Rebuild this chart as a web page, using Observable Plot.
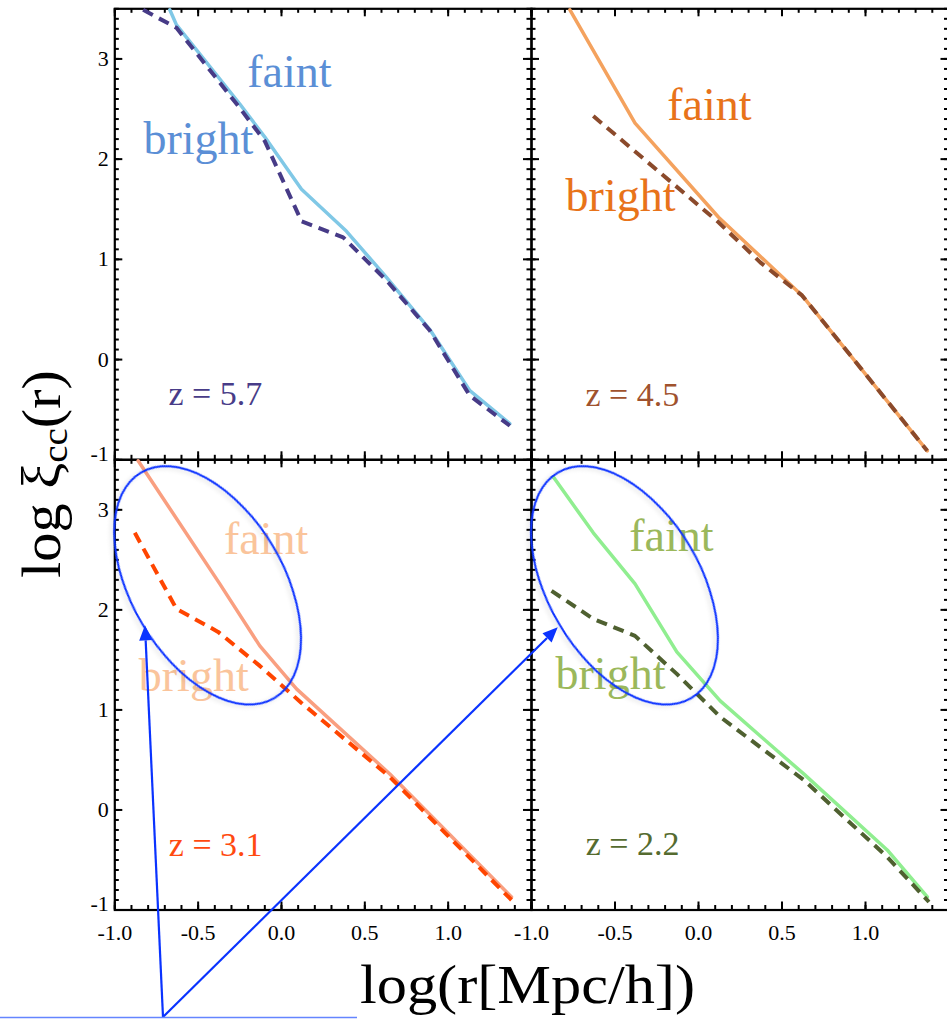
<!DOCTYPE html>
<html><head><meta charset="utf-8">
<script src="https://cdn.jsdelivr.net/npm/d3@7"></script>
<script src="https://cdn.jsdelivr.net/npm/@observablehq/plot@0.6"></script>
<style>
html,body{margin:0;padding:0;background:#fff;overflow:hidden;}
#fig{position:relative;width:947px;height:1019px;overflow:hidden;background:#fff;}
#fig > svg{position:absolute;left:0;top:0;}
</style></head><body><div id="fig"></div>
<script>
// ---------------- data ----------------
const redshiftLabels = ["z = 5.7", "z = 4.5", "z = 3.1", "z = 2.2"];
const seriesNames = ["faint", "bright"];

// z = 5.7 (top left)
const logr_57_faint  = [-0.67, -0.63, -0.25, -0.10, 0.12, 0.39, 0.63, 0.89, 1.13, 1.37];
const xi_57_faint    = [ 3.49,  3.34,  2.55,  2.22, 1.70, 1.28, 0.82, 0.30, -0.31, -0.64];
const logr_57_bright = [-0.83, -0.63, -0.25, -0.10, 0.12, 0.37, 0.63, 0.89, 1.13, 1.37];
const xi_57_bright   = [ 3.49,  3.31,  2.51,  2.18, 1.38, 1.22, 0.79, 0.29, -0.36, -0.66];

// z = 4.5 (top right)
const logr_45_faint  = [-0.77, -0.38, 0.12, 0.62, 1.37];
const xi_45_faint    = [ 3.49,  2.36, 1.42, 0.64, -0.91];
const logr_45_bright = [-0.63, 0.12, 0.37, 0.62, 1.37];
const xi_45_bright   = [ 2.43, 1.37, 0.97, 0.64, -0.91];

// z = 3.1 (bottom left)
const logr_31_faint  = [-0.86, -0.37, -0.13, 0.09, 0.65, 1.38];
const xi_31_faint    = [ 3.49,  2.26,  1.64, 1.21, 0.36, -0.87];
const logr_31_bright = [-0.88, -0.63, -0.38, -0.13, 0.12, 0.65, 1.38];
const xi_31_bright   = [ 2.77,  2.01,  1.78,  1.44, 1.07, 0.33, -0.90];

// z = 2.2 (bottom right)
const logr_22_faint  = [-0.87, -0.63, -0.38, -0.13, 0.13, 0.63, 1.13, 1.37];
const xi_22_faint    = [ 3.33,  2.77,  2.26,  1.58, 1.09, 0.36, -0.40, -0.87];
const logr_22_bright = [-0.88, -0.63, -0.38, -0.13, 0.13, 0.63, 1.13, 1.38];
const xi_22_bright   = [ 2.19,  1.91,  1.74,  1.36, 0.93, 0.30, -0.47, -0.92];

// axes
const xDomain = [-1, 1.5];
const yDomain = [-1, 3.5];
const xTickLabels = [-1.0, -0.5, 0.0, 0.5, 1.0];
const yTickLabels = [-1, 0, 1, 2, 3];
const xLabel = "log(r[Mpc/h])";

// ---------------- layout / style ----------------
const PAGE_W = 947, PAGE_H = 1019;
const SERIF = "'Liberation Serif', 'Times New Roman', serif";
const xMajor = d3.ticks(xDomain[0], xDomain[1], 5);
const xMinor = d3.ticks(xDomain[0], xDomain[1], 25);
const yMajor = d3.ticks(yDomain[0], yDomain[1], 5);
const yMinor = d3.ticks(yDomain[0], yDomain[1], 45);

const rows = (xs, ys) => xs.map((x, i) => ({x, y: ys[i]}));

const panels = [
  {name: redshiftLabels[0], W: 947, x0: 114.3, x1: 531, y0: 8.3, y1: 459.3, xLabels: false, yLabels: true,
   faint: rows(logr_57_faint, xi_57_faint), bright: rows(logr_57_bright, xi_57_bright),
   faintColor: "#80c8e6", brightColor: "#473b87", textColor: "#5b8fd6", zColor: "#483c88",
   pos: {faint: [-0.206, 2.72], bright: [-0.828, 2.05], z: [-0.678, -0.45]}},
  {name: redshiftLabels[1], W: 950, x0: 531, x1: 948.5, y0: 8.3, y1: 459.3, xLabels: false, yLabels: false,
   faint: rows(logr_45_faint, xi_45_faint), bright: rows(logr_45_bright, xi_45_bright),
   faintColor: "#f4a25e", brightColor: "#8b4a2b", textColor: "#e8731a", zColor: "#a0522d",
   pos: {faint: [-0.187, 2.39], bright: [-0.796, 1.48], z: [-0.677, -0.46]}},
  {name: redshiftLabels[2], W: 947, x0: 114.3, x1: 531, y0: 459.3, y1: 909.5, xLabels: true, yLabels: true,
   faint: rows(logr_31_faint, xi_31_faint), bright: rows(logr_31_bright, xi_31_bright),
   faintColor: "#f99f80", brightColor: "#ff4500", textColor: "#fac49b", zColor: "#ff4a10",
   pos: {faint: [-0.345, 2.56], bright: [-0.856, 1.19], z: [-0.676, -0.46]}},
  {name: redshiftLabels[3], W: 950, x0: 531, x1: 948.5, y0: 459.3, y1: 909.5, xLabels: true, yLabels: false,
   faint: rows(logr_22_faint, xi_22_faint), bright: rows(logr_22_bright, xi_22_bright),
   faintColor: "#90ee90", brightColor: "#4f6030", textColor: "#9bb85b", zColor: "#556b2f",
   pos: {faint: [-0.415, 2.59], bright: [-0.856, 1.21], z: [-0.675, -0.45]}}
];

const fig = document.getElementById("fig");
const charts = [];

for (const p of panels) {
  const fw = p.x1 - p.x0, fh = p.y1 - p.y0;
  const M = 8, m = 4.5, sw = 2;
  const tickStyle = {stroke: "#000", strokeWidth: sw};
  const marks = [
    Plot.ruleX(xMinor, {x: d => d, insetTop: fh - m, ...tickStyle}),
    Plot.ruleX(xMinor, {x: d => d, insetBottom: fh - m, ...tickStyle}),
    Plot.ruleX(xMajor, {x: d => d, insetTop: fh - M, ...tickStyle}),
    Plot.ruleX(xMajor, {x: d => d, insetBottom: fh - M, ...tickStyle}),
    Plot.ruleY(yMinor, {y: d => d, insetRight: fw - m, ...tickStyle}),
    Plot.ruleY(yMinor, {y: d => d, insetLeft: fw - m, ...tickStyle}),
    Plot.ruleY(yMajor, {y: d => d, insetRight: fw - M, ...tickStyle}),
    Plot.ruleY(yMajor, {y: d => d, insetLeft: fw - M, ...tickStyle}),
    Plot.frame({stroke: "#000", strokeWidth: 2.2}),
    Plot.line(p.faint, {x: "x", y: "y", stroke: p.faintColor, strokeWidth: 3.5}),
    Plot.line(p.bright, {x: "x", y: "y", stroke: p.brightColor, strokeWidth: 4,
      strokeDasharray: "11,7", strokeLinecap: "butt", strokeLinejoin: "miter"}),
    Plot.text([{x: p.pos.faint[0], y: p.pos.faint[1], t: seriesNames[0]},
               {x: p.pos.bright[0], y: p.pos.bright[1], t: seriesNames[1]}],
      {x: "x", y: "y", text: "t", fill: p.textColor, fontSize: 46, fontFamily: SERIF,
       textAnchor: "start", lineAnchor: "bottom"}),
    Plot.text([{x: p.pos.z[0], y: p.pos.z[1], t: p.name}],
      {x: "x", y: "y", text: "t", fill: p.zColor, fontSize: 34, fontFamily: SERIF,
       textAnchor: "start", lineAnchor: "bottom"})
  ];
  if (p.xLabels) {
    marks.push(Plot.axisX(xTickLabels, {anchor: "bottom", tickSize: 0, tickPadding: 14,
      tickFormat: d => d.toFixed(1), fontSize: 22, fontFamily: SERIF, fill: "#000", label: null}));
  }
  if (p.yLabels) {
    marks.push(Plot.axisY(yTickLabels.filter(d => d !== -1), {anchor: "left", tickSize: 0, tickPadding: 6,
      tickFormat: d => String(d), fontSize: 22, fontFamily: SERIF, fill: "#000", label: null}));
    marks.push(Plot.axisY(yTickLabels.filter(d => d === -1), {anchor: "left", tickSize: 0, tickPadding: 6,
      dy: -6, tickFormat: d => String(d), fontSize: 22, fontFamily: SERIF, fill: "#000", label: null}));
  }
  const chart = Plot.plot({
    width: p.W, height: PAGE_H,
    marginLeft: p.x0, marginRight: p.W - p.x1, marginTop: p.y0, marginBottom: PAGE_H - p.y1,
    x: p.xLabels ? {domain: xDomain} : {domain: xDomain, axis: null},
    y: p.yLabels ? {domain: yDomain} : {domain: yDomain, axis: null},
    style: {background: "transparent", maxWidth: "none", overflow: "visible",
            fontFamily: SERIF, fontSize: "22px", color: "#000"},
    marks
  });
  fig.appendChild(chart);
  charts.push(chart);
}

// ---------------- annotation overlay ----------------
const ov = d3.select(fig).append("svg")
  .attr("width", PAGE_W).attr("height", PAGE_H)
  .style("position", "absolute").style("left", "0px").style("top", "0px");

const defs = ov.append("defs");
defs.append("filter").attr("id", "shadow").attr("x", "-20%").attr("y", "-20%")
  .attr("width", "140%").attr("height", "140%")
  .append("feDropShadow").attr("dx", 0).attr("dy", 3).attr("stdDeviation", 2)
  .attr("flood-color", "#000").attr("flood-opacity", 0.12);

const BLUE = "#0a33ff";
const ellipseCenter = [-0.44, 2.24];     // in data coordinates of each lower panel
const arrowTips = [[-0.816, 1.84], [-0.84, 1.82]];
const arrowBase = [163, 1017];

[charts[2], charts[3]].forEach((c, i) => {
  const sx = c.scale("x"), sy = c.scale("y");
  const cx = sx.apply(ellipseCenter[0]), cy = sy.apply(ellipseCenter[1]);
  ov.append("ellipse").attr("cx", cx).attr("cy", cy).attr("rx", 131).attr("ry", 76)
    .attr("transform", `rotate(59.4 ${cx} ${cy})`)
    .attr("fill", "none").attr("stroke", BLUE).attr("stroke-width", 2)
    .attr("filter", "url(#shadow)");
  const tx = sx.apply(arrowTips[i][0]), ty = sy.apply(arrowTips[i][1]);
  const [bx0, by0] = arrowBase;
  const dx = tx - bx0, dy = ty - by0, len = Math.hypot(dx, dy);
  const ux = dx / len, uy = dy / len, L = 15, HW = 6.5;
  const hx = tx - ux * L, hy = ty - uy * L;
  ov.append("line").attr("x1", bx0).attr("y1", by0).attr("x2", hx).attr("y2", hy)
    .attr("stroke", BLUE).attr("stroke-width", 2.2);
  ov.append("polygon")
    .attr("points", `${tx},${ty} ${hx - uy * HW},${hy + ux * HW} ${hx + uy * HW},${hy - ux * HW}`)
    .attr("fill", BLUE);
});
ov.append("line").attr("x1", 0).attr("y1", 1017.5).attr("x2", 357).attr("y2", 1017.5)
  .attr("stroke", "#6485ff").attr("stroke-width", 1.5);

// axis titles
ov.append("text").attr("x", 360).attr("y", 1003)
  .attr("font-family", SERIF).attr("font-size", 54).attr("fill", "#000")
  .attr("textLength", 335).attr("lengthAdjust", "spacingAndGlyphs")
  .text(xLabel);

const yl = ov.append("text").attr("transform", "translate(60,578) rotate(-90)")
  .attr("font-family", SERIF).attr("font-size", 54).attr("fill", "#000")
  .attr("textLength", 208).attr("lengthAdjust", "spacingAndGlyphs");
yl.append("tspan").text("log ξ");
yl.append("tspan").attr("font-size", 36).attr("dy", 7).text("cc");
yl.append("tspan").attr("dy", -7).text("(r)");
</script>
</body></html>
